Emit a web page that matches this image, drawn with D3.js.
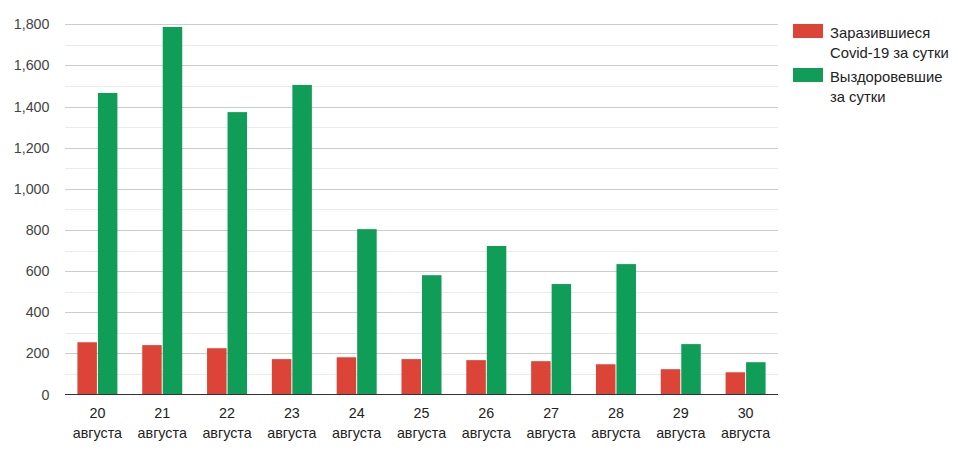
<!DOCTYPE html>
<html><head><meta charset="utf-8">
<script src="https://cdn.jsdelivr.net/npm/d3@7"></script>
<style>body{margin:0;background:#fff}svg{font-family:"Liberation Sans",Arial,sans-serif}</style>
</head><body><svg id="c" width="958" height="463"></svg>
<script>
const days = ["20","21","22","23","24","25","26","27","28","29","30"];
const month = "августа";
const infected = [254,240,225,172,181,172,167,162,147,123,108];
const recovered = [1466,1787,1373,1505,804,580,722,537,634,245,157];
const yTicks = [0,200,400,600,800,1000,1200,1400,1600,1800];
const seriesNames = [["Заразившиеся","Covid-19 за сутки"],["Выздоровевшие","за сутки"]];
const colors = ["#db4437","#0f9d58"];

const svg = d3.select("#c");
const L=65,R=778,T=24.3,B=394.5;
const x = d3.scaleBand().domain(days).range([L,R]);
const y = d3.scaleLinear().domain([0,1800]).range([B,T]);
const minor = d3.range(100,1800,200);
svg.append("g").selectAll("line").data(minor).join("line")
  .attr("x1",L).attr("x2",R).attr("y1",d=>Math.round(y(d))+0.5).attr("y2",d=>Math.round(y(d))+0.5)
  .attr("stroke","#ebebeb");
svg.append("g").selectAll("line").data(yTicks.slice(1)).join("line")
  .attr("x1",L).attr("x2",R).attr("y1",d=>Math.round(y(d))+0.5).attr("y2",d=>Math.round(y(d))+0.5)
  .attr("stroke","#cccccc");
const fmt = d3.format(",");
svg.append("g").selectAll("text").data(yTicks).join("text")
  .attr("x",49.5).attr("y",d=>y(d)+5).attr("text-anchor","end")
  .attr("font-size",14.3).attr("fill","#444").text(d=>fmt(d));
const bw=19.5, gap=1;
days.forEach((d,i)=>{
  const c = x(d)+x.bandwidth()/2;
  svg.append("rect").attr("x",c-bw-gap/2).attr("width",bw).attr("y",y(infected[i])).attr("height",B-y(infected[i])).attr("fill",colors[0]);
  svg.append("rect").attr("x",c+gap/2).attr("width",bw).attr("y",y(recovered[i])).attr("height",B-y(recovered[i])).attr("fill",colors[1]);
  svg.append("text").attr("x",c).attr("y",418).attr("text-anchor","middle").attr("font-size",14.3).attr("fill","#222").text(d);
  svg.append("text").attr("x",c).attr("y",438).attr("text-anchor","middle").attr("font-size",14.3).attr("fill","#222").text(month);
});
svg.append("line").attr("x1",L).attr("x2",R).attr("y1",B).attr("y2",B).attr("stroke","#333");
seriesNames.forEach((n,i)=>{
  const y0 = 24 + i*44;
  svg.append("rect").attr("x",793).attr("y",y0).attr("width",30).attr("height",14).attr("fill",colors[i]);
  n.forEach((t,j)=>svg.append("text").attr("x",830).attr("y",y0+13.5+j*20).attr("font-size",14.8).attr("fill","#222").text(t));
});
</script></body></html>
